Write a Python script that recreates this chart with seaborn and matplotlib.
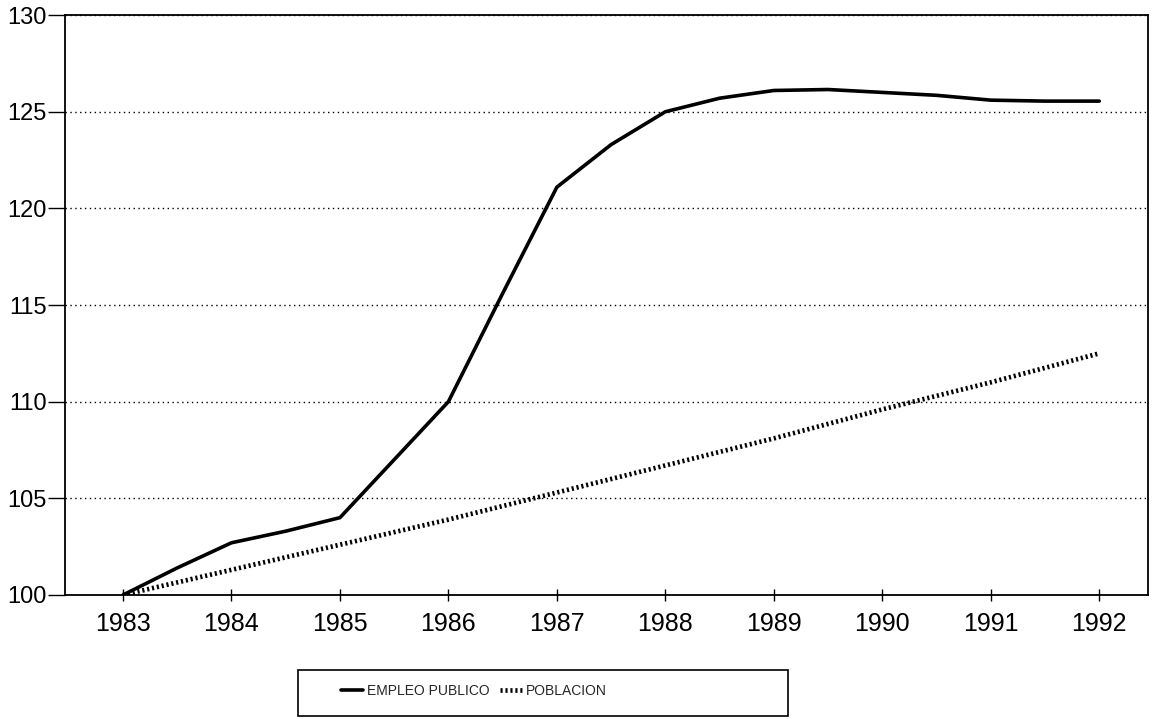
import pandas as pd
import matplotlib.pyplot as plt
import matplotlib.patches as mpatches
import seaborn as sns

# data (index 1983 = 100)
empleo_years = [1983, 1983.5, 1984, 1984.5, 1985, 1985.5, 1986, 1986.5, 1987,
                1987.5, 1988, 1988.5, 1989, 1989.5, 1990, 1990.5, 1991, 1991.5, 1992]
empleo_vals = [100.0, 101.4, 102.7, 103.3, 104.0, 107.0, 110.0, 115.6, 121.1,
               123.3, 125.0, 125.7, 126.1, 126.15, 126.0, 125.85, 125.6, 125.55, 125.55]

pob_years = [1983, 1984, 1985, 1986, 1987, 1988, 1989, 1990, 1991, 1992]
pob_vals = [100.0, 101.3, 102.6, 103.9, 105.3, 106.7, 108.1, 109.6, 111.0, 112.5]

year_ticks = list(range(1983, 1993))
y_ticks = [100, 105, 110, 115, 120, 125, 130]

df_emp = pd.DataFrame({"Año": empleo_years, "Indice": empleo_vals})
df_pob = pd.DataFrame({"Año": pob_years, "Indice": pob_vals})

sns.set_style("white")
plt.rcParams["font.family"] = ["Liberation Sans", "DejaVu Sans"]

fig = plt.figure(figsize=(11.64, 7.19), dpi=100)
ax = fig.add_axes([0.0558, 0.1725, 0.9305, 0.8065])

sns.lineplot(data=df_emp, x="Año", y="Indice", ax=ax, color="black",
             linewidth=2.6, label="EMPLEO PUBLICO")
sns.lineplot(data=df_pob, x="Año", y="Indice", ax=ax, color="black",
             linewidth=3.4, linestyle=(0, (0.45, 0.6)), label="POBLACION")

ax.set_xlim(1982.465, 1992.45)
ax.set_ylim(100, 130)
ax.set_xticks(year_ticks)
ax.set_yticks(y_ticks)
ax.set_xlabel("")
ax.set_ylabel("")

# dotted horizontal grid only
ax.yaxis.grid(True, color="black", linestyle=(0, (1, 2.5)), linewidth=1)
ax.xaxis.grid(False)

for s in ax.spines.values():
    s.set_color("black")
    s.set_linewidth(1.3)

ax.tick_params(axis="y", left=True, direction="out", length=12, width=1, pad=1,
               labelsize=17, colors="black")
ax.tick_params(axis="x", bottom=True, direction="inout", length=8, width=1, pad=8,
               labelsize=18, colors="black")

# legend below the plot with a wide box
handles, labels = ax.get_legend_handles_labels()
ax.legend_.remove()
fig.legend(handles, labels, loc="center left", bbox_to_anchor=(0.287, 0.039),
           ncol=2, frameon=False, fontsize=10, handlelength=1.6,
           handletextpad=0.3, columnspacing=0.7, borderpad=0)
fig.patches.append(mpatches.Rectangle((0.256, 0.004), 0.421, 0.064,
                                      transform=fig.transFigure, fill=False,
                                      edgecolor="black", linewidth=1.2))

fig.savefig("out.png", dpi=100)
